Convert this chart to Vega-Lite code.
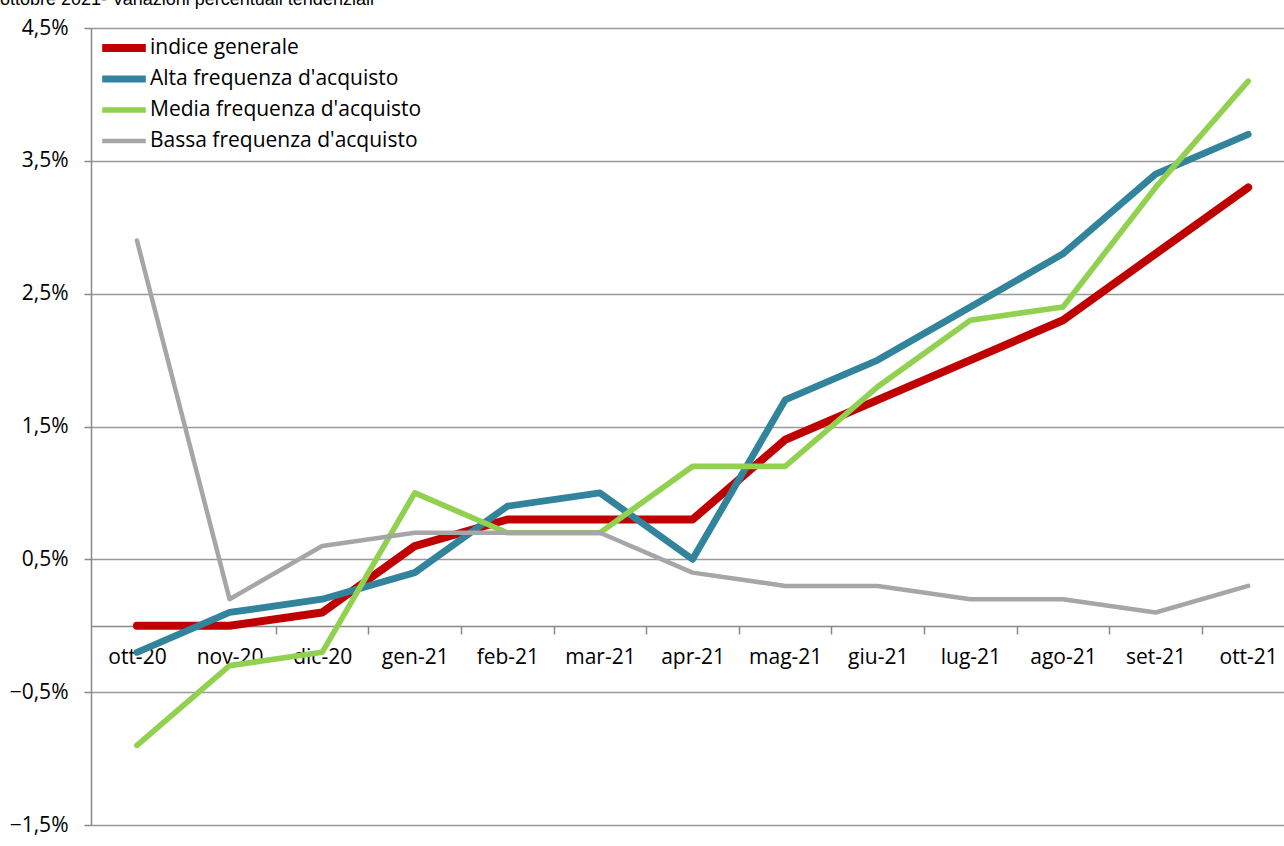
{
  "$schema": "https://vega.github.io/schema/vega-lite/v6.json",
  "width": 1193,
  "height": 797,
  "autosize": {"type": "none"},
  "padding": {"left": 91, "top": 28, "right": 0, "bottom": 21},
  "background": "white",
  "title": {
    "text": "ottobre 2021- Variazioni percentuali tendenziali",
    "anchor": "start",
    "frame": "group",
    "dx": -91,
    "offset": 0,
    "dy": 6,
    "baseline": "alphabetic",
    "font": "Liberation Sans",
    "fontSize": 18,
    "fontWeight": "normal",
    "color": "#000000"
  },
  "config": {
    "view": {"stroke": null}
  },
  "data": {
    "values": [
      {"mese": "ott-20", "serie": "indice generale", "v": 0.0},
      {"mese": "nov-20", "serie": "indice generale", "v": 0.0},
      {"mese": "dic-20", "serie": "indice generale", "v": 0.1},
      {"mese": "gen-21", "serie": "indice generale", "v": 0.6},
      {"mese": "feb-21", "serie": "indice generale", "v": 0.8},
      {"mese": "mar-21", "serie": "indice generale", "v": 0.8},
      {"mese": "apr-21", "serie": "indice generale", "v": 0.8},
      {"mese": "mag-21", "serie": "indice generale", "v": 1.4},
      {"mese": "giu-21", "serie": "indice generale", "v": 1.7},
      {"mese": "lug-21", "serie": "indice generale", "v": 2.0},
      {"mese": "ago-21", "serie": "indice generale", "v": 2.3},
      {"mese": "set-21", "serie": "indice generale", "v": 2.8},
      {"mese": "ott-21", "serie": "indice generale", "v": 3.3},
      {"mese": "ott-20", "serie": "Alta frequenza d'acquisto", "v": -0.2},
      {"mese": "nov-20", "serie": "Alta frequenza d'acquisto", "v": 0.1},
      {"mese": "dic-20", "serie": "Alta frequenza d'acquisto", "v": 0.2},
      {"mese": "gen-21", "serie": "Alta frequenza d'acquisto", "v": 0.4},
      {"mese": "feb-21", "serie": "Alta frequenza d'acquisto", "v": 0.9},
      {"mese": "mar-21", "serie": "Alta frequenza d'acquisto", "v": 1.0},
      {"mese": "apr-21", "serie": "Alta frequenza d'acquisto", "v": 0.5},
      {"mese": "mag-21", "serie": "Alta frequenza d'acquisto", "v": 1.7},
      {"mese": "giu-21", "serie": "Alta frequenza d'acquisto", "v": 2.0},
      {"mese": "lug-21", "serie": "Alta frequenza d'acquisto", "v": 2.4},
      {"mese": "ago-21", "serie": "Alta frequenza d'acquisto", "v": 2.8},
      {"mese": "set-21", "serie": "Alta frequenza d'acquisto", "v": 3.4},
      {"mese": "ott-21", "serie": "Alta frequenza d'acquisto", "v": 3.7},
      {"mese": "ott-20", "serie": "Media frequenza d'acquisto", "v": -0.9},
      {"mese": "nov-20", "serie": "Media frequenza d'acquisto", "v": -0.3},
      {"mese": "dic-20", "serie": "Media frequenza d'acquisto", "v": -0.2},
      {"mese": "gen-21", "serie": "Media frequenza d'acquisto", "v": 1.0},
      {"mese": "feb-21", "serie": "Media frequenza d'acquisto", "v": 0.7},
      {"mese": "mar-21", "serie": "Media frequenza d'acquisto", "v": 0.7},
      {"mese": "apr-21", "serie": "Media frequenza d'acquisto", "v": 1.2},
      {"mese": "mag-21", "serie": "Media frequenza d'acquisto", "v": 1.2},
      {"mese": "giu-21", "serie": "Media frequenza d'acquisto", "v": 1.8},
      {"mese": "lug-21", "serie": "Media frequenza d'acquisto", "v": 2.3},
      {"mese": "ago-21", "serie": "Media frequenza d'acquisto", "v": 2.4},
      {"mese": "set-21", "serie": "Media frequenza d'acquisto", "v": 3.3},
      {"mese": "ott-21", "serie": "Media frequenza d'acquisto", "v": 4.1},
      {"mese": "ott-20", "serie": "Bassa frequenza d'acquisto", "v": 2.9},
      {"mese": "nov-20", "serie": "Bassa frequenza d'acquisto", "v": 0.2},
      {"mese": "dic-20", "serie": "Bassa frequenza d'acquisto", "v": 0.6},
      {"mese": "gen-21", "serie": "Bassa frequenza d'acquisto", "v": 0.7},
      {"mese": "feb-21", "serie": "Bassa frequenza d'acquisto", "v": 0.7},
      {"mese": "mar-21", "serie": "Bassa frequenza d'acquisto", "v": 0.7},
      {"mese": "apr-21", "serie": "Bassa frequenza d'acquisto", "v": 0.4},
      {"mese": "mag-21", "serie": "Bassa frequenza d'acquisto", "v": 0.3},
      {"mese": "giu-21", "serie": "Bassa frequenza d'acquisto", "v": 0.3},
      {"mese": "lug-21", "serie": "Bassa frequenza d'acquisto", "v": 0.2},
      {"mese": "ago-21", "serie": "Bassa frequenza d'acquisto", "v": 0.2},
      {"mese": "set-21", "serie": "Bassa frequenza d'acquisto", "v": 0.1},
      {"mese": "ott-21", "serie": "Bassa frequenza d'acquisto", "v": 0.3}
    ]
  },
  "mark": {"type": "line", "strokeCap": "round", "strokeJoin": "round"},
  "encoding": {
    "x": {
      "field": "mese",
      "type": "ordinal",
      "sort": null,
      "scale": {"type": "point", "padding": 0.4415, "align": 0.562},
      "axis": {
        "title": null,
        "orient": "bottom",
        "offset": -199,
        "labelAngle": 0,
        "labelFont": "Open Sans",
        "labelFontSize": 21,
        "labelColor": "#000000",
        "domainColor": "#888888",
        "domainWidth": 1.5,
        "tickColor": "#888888",
        "tickSize": 8,
        "tickWidth": 1.5,
        "tickOffset": 46.3,
        "labelOffset": -46.3,
        "labelPadding": 12,
        "grid": false
      }
    },
    "y": {
      "field": "v",
      "type": "quantitative",
      "scale": {"domain": [-1.5, 4.5], "nice": false, "zero": false},
      "axis": {
        "title": null,
        "values": [-1.5, -0.5, 0.5, 1.5, 2.5, 3.5, 4.5],
        "labelExpr": "replace(format(datum.value, '.1f'), '.', ',') + '%'",
        "labelFont": "Open Sans",
        "labelFontSize": 21,
        "labelColor": "#000000",
        "domainColor": "#888888",
        "domainWidth": 1.5,
        "tickColor": "#888888",
        "tickSize": 7,
        "tickWidth": 1.5,
        "labelPadding": 16,
        "grid": true,
        "gridColor": "#999999",
        "gridWidth": 1.5
      }
    },
    "color": {
      "field": "serie",
      "type": "nominal",
      "scale": {
        "domain": ["indice generale", "Alta frequenza d'acquisto", "Media frequenza d'acquisto", "Bassa frequenza d'acquisto"],
        "range": ["#C00000", "#31849B", "#92D050", "#A6A6A6"]
      },
      "legend": {
        "title": null,
        "orient": "top-left",
        "offset": 7,
        "padding": 0,
        "symbolType": "stroke",
        "symbolSize": 1900,
        "clipHeight": 26,
        "labelFont": "Open Sans",
        "labelFontSize": 21,
        "labelColor": "#000000",
        "labelOffset": 0,
        "rowPadding": 5,
        "labelLimit": 500
      }
    },
    "strokeWidth": {
      "field": "serie",
      "type": "nominal",
      "scale": {
        "domain": ["indice generale", "Alta frequenza d'acquisto", "Media frequenza d'acquisto", "Bassa frequenza d'acquisto"],
        "range": [8, 4.5, 4.5, 4.5]
      },
      "legend": {
        "title": null,
        "orient": "top-left",
        "offset": 7,
        "padding": 0,
        "symbolType": "stroke",
        "symbolSize": 1900,
        "clipHeight": 26,
        "labelFont": "Open Sans",
        "labelFontSize": 21,
        "labelColor": "#000000",
        "labelOffset": 0,
        "rowPadding": 5,
        "labelLimit": 500
      }
    }
  }
}
